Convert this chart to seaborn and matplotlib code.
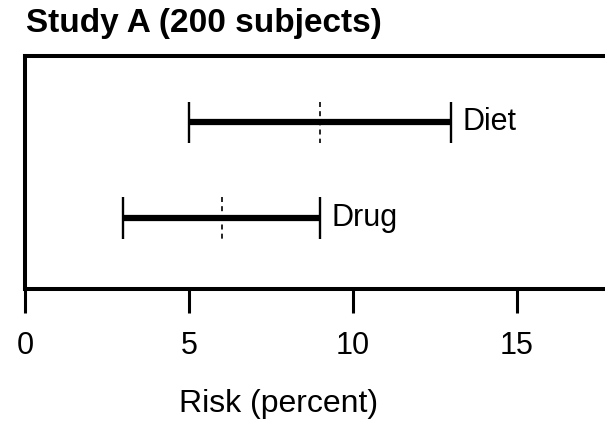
import pandas as pd
import matplotlib
matplotlib.use("Agg")
import matplotlib.pyplot as plt
import seaborn as sns

# risk ranges per treatment (percent)
groups = ["Diet", "Drug"]
low = [5, 3]
median = [9, 6]
high = [13, 9]
x_ticks = [0, 5, 10, 15]

sns.set_style("white")
plt.rcParams["font.family"] = ["Liberation Sans", "DejaVu Sans"]
plt.rcParams["text.color"] = "black"
plt.rcParams["axes.labelcolor"] = "black"
plt.rcParams["xtick.color"] = "black"

# long table: low / median / high per group so seaborn draws the full range
rows = []
for g, lo, md, hi in zip(groups, low, median, high):
    for v in (lo, md, hi):
        rows.append({"group": g, "risk": v})
df = pd.DataFrame(rows)

fig = plt.figure(figsize=(6.05, 4.24), dpi=100)
ax = fig.add_axes([25 / 605, 135 / 424, 656 / 605, 233 / 424])

sns.pointplot(data=df, x="risk", y="group", order=groups, estimator="median",
              errorbar=("pi", 100), marker="", linestyle="none",
              color="black", err_kws={"linewidth": 4.5, "solid_capstyle": "butt"},
              ax=ax)

# end caps and dashed median marks
ys = list(range(len(groups)))
ax.vlines(low, [y - 0.215 for y in ys], [y + 0.215 for y in ys], color="black", lw=1.7)
ax.vlines(high, [y - 0.215 for y in ys], [y + 0.215 for y in ys], color="black", lw=1.7)
ax.vlines(median, [y - 0.215 for y in ys], [y + 0.215 for y in ys], color="black",
          lw=1.2, linestyles=(0, (3, 2.5)))

for y, g, hi in zip(ys, groups, high):
    ax.text(hi + 0.33, y, g, va="center", ha="left", fontsize=22)

ax.set_xlim(0, 20)
ax.set_ylim(1.74, -0.69)
ax.set_xticks(x_ticks)
ax.set_yticks([])
ax.set_ylabel("")
ax.set_xlabel("Risk (percent)", fontsize=23, va="baseline")
ax.xaxis.set_label_coords((279 - 25) / 656, (12 - 135) / 233)
ax.tick_params(axis="x", direction="out", length=17, width=2.2, pad=13,
               labelsize=22, bottom=True, color="black")
for s in ax.spines.values():
    s.set_visible(True)
    s.set_linewidth(2.9)
    s.set_color("black")

fig.text(26 / 605, 1 - 32 / 424, "Study A (200 subjects)", fontsize=24,
         fontweight="bold", va="baseline", ha="left")

fig.savefig("out.png", dpi=100)
